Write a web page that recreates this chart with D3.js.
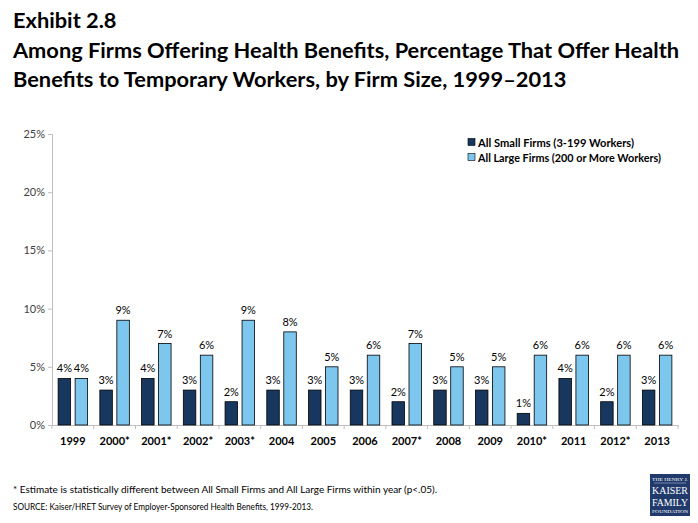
<!DOCTYPE html>
<html>
<head>
<meta charset="utf-8">
<script src="https://cdn.jsdelivr.net/npm/d3@7"></script>
<style>
  body { margin: 0; background: #fff; }
  svg { display: block; font-family: Lato, "Open Sans", sans-serif; }
</style>
</head>
<body>
<svg id="chart" width="698" height="523"></svg>
<script>
// Chart data
const years = ['1999', '2000*', '2001*', '2002*', '2003*', '2004', '2005', '2006', '2007*', '2008', '2009', '2010*', '2011', '2012*', '2013'];
const smallFirms = [4, 3, 4, 3, 2, 3, 3, 3, 2, 3, 3, 1, 4, 2, 3];
const largeFirms = [4, 9, 7, 6, 9, 8, 5, 6, 7, 5, 5, 6, 6, 6, 6];
const seriesNames = ['All Small Firms (3-199 Workers)', 'All Large Firms (200 or More Workers)'];
const seriesColors = ['#17375e', '#7dc6ed'];
const yTicks = [0, 5, 10, 15, 20, 25];

const svg = d3.select('#chart');

// Title
const titleLines = [
    'Exhibit 2.8',
    'Among Firms Offering Health Benefits, Percentage That Offer Health',
    'Benefits to Temporary Workers, by Firm Size, 1999\u20132013'
];
svg.append('g')
    .selectAll('text')
    .data(titleLines)
    .enter()
    .append('text')
    .attr('x', 13)
    .attr('y', (d, i) => 28 + i * 29.5)
    .attr('font-size', 21.8)
    .attr('font-weight', 'bold')
    .attr('fill', '#000')
    .text(d => d);

// Scales
const x = d3.scaleBand()
    .domain(years)
    .range([52, 678]);

const y = d3.scaleLinear()
    .domain([0, 25])
    .range([425, 134]);

const barW = 12.5;
const gap = 4.5;

// Y axis
const yAxis = svg.append('g')
    .attr('transform', 'translate(52,0)')
    .call(d3.axisLeft(y).tickValues(yTicks).tickSize(4).tickFormat(d => d + '%'));
yAxis.select('.domain').attr('stroke', '#bfbfbf');
yAxis.selectAll('.tick line').attr('stroke', '#bfbfbf');
yAxis.selectAll('.tick text')
    .attr('font-size', 11)
    .attr('fill', '#404040')
    .attr('font-family', 'Lato, sans-serif');

// X axis
const xAxis = svg.append('g')
    .attr('transform', 'translate(0,425)')
    .call(d3.axisBottom(x).tickSize(0).tickPadding(12));
xAxis.select('.domain').attr('stroke', '#bfbfbf');
xAxis.selectAll('.tick text')
    .attr('font-size', 11)
    .attr('font-weight', 'bold')
    .attr('fill', '#000')
    .attr('font-family', 'Lato, sans-serif');

// Category separators
svg.append('g')
    .selectAll('line')
    .data(years.concat(['end']))
    .enter()
    .append('line')
    .attr('x1', (d, i) => i < years.length ? x(d) : x.range()[1])
    .attr('x2', (d, i) => i < years.length ? x(d) : x.range()[1])
    .attr('y1', 425)
    .attr('y2', 429)
    .attr('stroke', '#bfbfbf');

// Bars
const series = [smallFirms, largeFirms];
series.forEach((vals, s) => {
    const offset = s === 0 ? -gap / 2 - barW : gap / 2;
    const g = svg.append('g');
    g.selectAll('rect')
        .data(vals)
        .enter()
        .append('rect')
        .attr('x', (d, i) => x(years[i]) + x.bandwidth() / 2 + offset)
        .attr('y', d => y(d))
        .attr('width', barW)
        .attr('height', d => y(0) - y(d))
        .attr('fill', seriesColors[s])
        .attr('stroke', '#000')
        .attr('stroke-width', 0.8);
    g.selectAll('text')
        .data(vals)
        .enter()
        .append('text')
        .attr('x', (d, i) => x(years[i]) + x.bandwidth() / 2 + offset + barW / 2)
        .attr('y', d => y(d) - 6)
        .attr('text-anchor', 'middle')
        .attr('font-size', 11)
        .attr('fill', '#000')
        .text(d => d + '%');
});

// Legend
const legend = svg.append('g').attr('transform', 'translate(468,138.5)');
const legendWidths = [156, 183];
seriesNames.forEach((name, i) => {
    legend.append('rect')
        .attr('x', 0)
        .attr('y', i * 15)
        .attr('width', 7)
        .attr('height', 7)
        .attr('fill', seriesColors[i])
        .attr('stroke', '#000')
        .attr('stroke-width', 0.6);
    legend.append('text')
        .attr('x', 10)
        .attr('y', i * 15 + 8)
        .attr('font-size', 10.5)
        .attr('font-weight', 'bold')
        .attr('textLength', legendWidths[i])
        .attr('lengthAdjust', 'spacingAndGlyphs')
        .attr('fill', '#000')
        .text(name);
});

// Footnotes
svg.append('text')
    .attr('x', 13)
    .attr('y', 493)
    .attr('font-size', 9.8)
    .attr('textLength', 424)
    .attr('lengthAdjust', 'spacingAndGlyphs')
    .attr('fill', '#000')
    .text('* Estimate is statistically different between All Small Firms and All Large Firms within year (p<.05).');
svg.append('text')
    .attr('x', 13)
    .attr('y', 510)
    .attr('font-size', 9.8)
    .attr('textLength', 300)
    .attr('lengthAdjust', 'spacingAndGlyphs')
    .attr('fill', '#000')
    .text('SOURCE:  Kaiser/HRET Survey of Employer-Sponsored Health Benefits, 1999-2013.');

// Logo
const logo = svg.append('g').attr('transform', 'translate(650,474)');
logo.append('rect')
    .attr('width', 40)
    .attr('height', 42)
    .attr('fill', '#1f3a6b');
const logoLines = [
    { t: 'THE HENRY J.', y: 7, s: 4.5 },
    { t: 'KAISER', y: 20, s: 11 },
    { t: 'FAMILY', y: 32, s: 11 },
    { t: 'FOUNDATION', y: 39, s: 4 }
];
logo.selectAll('text')
    .data(logoLines)
    .enter()
    .append('text')
    .attr('x', 20)
    .attr('y', d => d.y)
    .attr('text-anchor', 'middle')
    .attr('font-family', '"Liberation Serif", "DejaVu Serif", serif')
    .attr('font-size', d => d.s)
    .attr('textLength', 36)
    .attr('lengthAdjust', 'spacingAndGlyphs')
    .attr('fill', '#fff')
    .text(d => d.t);
logo.append('line')
    .attr('x1', 4).attr('x2', 36)
    .attr('y1', 9).attr('y2', 9)
    .attr('stroke', '#fff').attr('stroke-width', 0.4);
</script>
</body>
</html>
